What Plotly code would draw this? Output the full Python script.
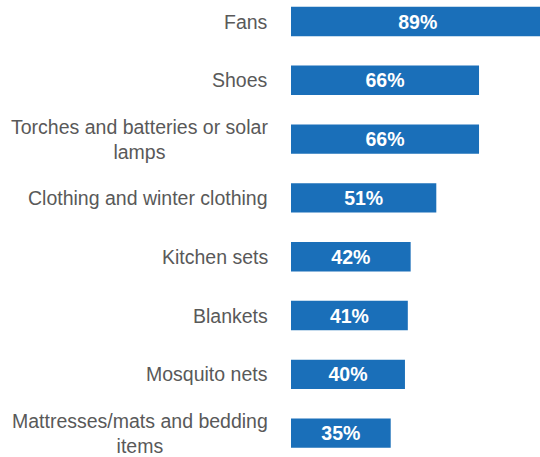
import plotly.graph_objects as go

categories = [
    "Fans",
    "Shoes",
    "Torches and batteries or solar<br>lamps",
    "Clothing and winter clothing",
    "Kitchen sets",
    "Blankets",
    "Mosquito nets",
    "Mattresses/mats and bedding<br>items",
]
values = [89, 66, 66, 51, 42, 41, 40, 35]

BAR_COLOR = "#1a6fb9"
LABEL_COLOR = "#595959"
FONT = "Liberation Sans, Arial, sans-serif"

fig = go.Figure(
    go.Bar(
        x=values,
        y=list(range(len(categories))),
        orientation="h",
        marker=dict(color=BAR_COLOR, line=dict(width=0)),
        texttemplate="<b>%{x}%</b>",
        textposition="inside",
        insidetextanchor="middle",
        textfont=dict(color="white", size=19.5, family=FONT),
        cliponaxis=True,
        hoverinfo="skip",
    )
)

# category labels, right-aligned to the left of the bars, lines centred
for i, cat in enumerate(categories):
    fig.add_annotation(
        x=0, xref="paper", y=i, yref="y",
        text=cat, showarrow=False,
        xanchor="right", yanchor="middle", align="center",
        xshift=-21,
        font=dict(color=LABEL_COLOR, size=19.5, family=FONT),
    )

fig.update_layout(
    width=540, height=457,
    margin=dict(l=291, r=0, t=0, b=0),
    paper_bgcolor="white", plot_bgcolor="white",
    bargap=0.5,
    showlegend=False,
    uniformtext=dict(minsize=8, mode="show"),
)
fig.update_xaxes(range=[0, 87.4], visible=False, fixedrange=True)
fig.update_yaxes(range=[7.406, -0.366], visible=False, fixedrange=True)

fig.write_html("out.html", config={"displayModeBar": False})
